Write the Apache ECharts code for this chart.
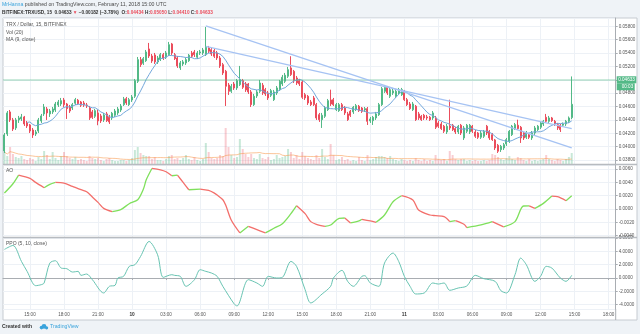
<!DOCTYPE html>
<html><head><meta charset="utf-8">
<script src="https://cdn.jsdelivr.net/npm/echarts@6/dist/echarts.min.js"></script>
<style>html,body{margin:0;padding:0;background:#eff3f7;}#c{width:640px;height:334px;}</style>
</head><body><div id="c"></div>
<script>
// ---- data (15-minute candles, 2018-02-09 12:45 UTC .. 2018-02-11 14:45 UTC) ----
const startTime = '2018-02-09T12:45:00Z';
const stepMinutes = 15;
const slotCount = 216; // axis runs to 18:30 on Feb 11

const open = [0.03935,0.04189,0.04519,0.04399,0.04279,0.04399,0.04414,0.04444,0.04354,0.04324,
0.04249,0.04189,0.04234,0.04384,0.04489,0.04563,0.04489,0.04519,0.04548,0.04623,
0.04638,0.04698,0.04638,0.04593,0.04578,0.04649,0.04694,0.04668,0.04653,0.04623,
0.04578,0.04519,0.04454,0.04504,0.04459,0.04399,0.04489,0.04439,0.04429,0.04469,
0.04504,0.04548,0.04628,0.04717,0.04628,0.04698,0.04753,0.04978,0.05301,0.05247,
0.05286,0.05461,0.05356,0.05371,0.05267,0.05301,0.05376,0.05337,0.05376,0.05536,
0.05376,0.05326,0.05177,0.05237,0.05252,0.05286,0.05401,0.05416,0.05337,0.05401,
0.05401,0.05376,0.05476,0.05450,0.05436,0.05401,0.05326,0.05226,0.05127,0.04922,
0.04828,0.04937,0.04878,0.04927,0.04987,0.04937,0.04937,0.04818,0.04628,0.04758,
0.04828,0.04918,0.04852,0.04803,0.04768,0.04702,0.04803,0.04852,0.04937,0.04978,
0.05053,0.05177,0.05127,0.05027,0.04987,0.04967,0.04777,0.04753,0.04668,0.04728,
0.04628,0.04478,0.04403,0.04454,0.04553,0.04698,0.04702,0.04553,0.04538,0.04628,
0.04578,0.04489,0.04529,0.04519,0.04553,0.04604,0.04578,0.04548,0.04568,0.04384,
0.04388,0.04429,0.04478,0.04628,0.04828,0.04888,0.04753,0.04803,0.04753,0.04803,
0.04777,0.04828,0.04702,0.04638,0.04553,0.04604,0.04489,0.04454,0.04469,0.04444,
0.04439,0.04429,0.04429,0.04354,0.04339,0.04305,0.04219,0.04309,0.04320,0.04269,
0.04219,0.04320,0.04130,0.04230,0.04219,0.04305,0.04219,0.04204,0.04140,0.04155,
0.04305,0.04230,0.04179,0.04100,0.04020,0.03955,0.03980,0.04040,0.04080,0.04179,
0.04269,0.04320,0.04290,0.04204,0.04140,0.04179,0.04130,0.04204,0.04254,0.04290,
0.04339,0.04439,0.04379,0.04429,0.04379,0.04329,0.04320,0.04320,0.04339,0.04379,
0.04434];

const close = [0.04174,0.04504,0.04399,0.04264,0.04399,0.04429,0.04444,0.04339,0.04309,0.04234,
0.04174,0.04219,0.04399,0.04459,0.04593,0.04504,0.04533,0.04563,0.04638,0.04668,
0.04688,0.04628,0.04568,0.04533,0.04628,0.04702,0.04643,0.04619,0.04623,0.04608,
0.04429,0.04439,0.04538,0.04384,0.04384,0.04474,0.04388,0.04369,0.04499,0.04533,
0.04563,0.04608,0.04713,0.04653,0.04702,0.04743,0.04987,0.05301,0.05226,0.05316,
0.05416,0.05356,0.05281,0.05267,0.05326,0.05376,0.05326,0.05401,0.05525,0.05401,
0.05316,0.05207,0.05252,0.05267,0.05301,0.05367,0.05352,0.05376,0.05401,0.05416,
0.05446,0.05486,0.05427,0.05386,0.05352,0.05326,0.05207,0.05102,0.04903,0.04828,
0.04903,0.04878,0.04987,0.05002,0.04888,0.04848,0.04818,0.04628,0.04753,0.04818,
0.04952,0.04803,0.04788,0.04728,0.04837,0.04818,0.04878,0.04978,0.05038,0.05068,
0.05151,0.05077,0.04987,0.04952,0.04937,0.04738,0.04728,0.04653,0.04628,0.04628,
0.04429,0.04403,0.04469,0.04578,0.04688,0.04638,0.04628,0.04628,0.04628,0.04553,
0.04504,0.04403,0.04469,0.04589,0.04613,0.04538,0.04529,0.04568,0.04379,0.04414,
0.04439,0.04489,0.04628,0.04867,0.04888,0.04803,0.04852,0.04833,0.04828,0.04852,
0.04852,0.04702,0.04628,0.04568,0.04638,0.04403,0.04429,0.04403,0.04429,0.04429,
0.04403,0.04504,0.04290,0.04305,0.04269,0.04230,0.04305,0.04279,0.04254,0.04219,
0.04305,0.04204,0.04279,0.04320,0.04320,0.04230,0.04155,0.04140,0.04204,0.04230,
0.04204,0.04130,0.04104,0.03980,0.03931,0.04005,0.04029,0.04104,0.04230,0.04305,
0.04329,0.04269,0.04130,0.04130,0.04204,0.04140,0.04204,0.04279,0.04305,0.04354,
0.04379,0.04379,0.04429,0.04388,0.04339,0.04279,0.04254,0.04339,0.04379,0.04429,
0.04633];

const high = [0.04204,0.04533,0.04548,0.04429,0.04429,0.04459,0.04489,0.04459,0.04384,0.04339,
0.04279,0.04249,0.04429,0.04489,0.04638,0.04593,0.04563,0.04593,0.04668,0.04698,
0.04728,0.04728,0.04653,0.04623,0.04653,0.04728,0.04713,0.04683,0.04683,0.04653,
0.04608,0.04548,0.04563,0.04553,0.04489,0.04504,0.04519,0.04474,0.04519,0.04563,
0.04593,0.04638,0.04743,0.04743,0.04728,0.04773,0.05012,0.05341,0.05341,0.05341,
0.05446,0.05551,0.05386,0.05401,0.05356,0.05401,0.05401,0.05431,0.05566,0.05551,
0.05401,0.05356,0.05281,0.05296,0.05326,0.05386,0.05431,0.05446,0.05431,0.05446,
0.05476,0.05790,0.05506,0.05476,0.05461,0.05431,0.05356,0.05252,0.05147,0.04952,
0.04937,0.04967,0.05012,0.05207,0.05012,0.04967,0.04952,0.04848,0.04788,0.04848,
0.04997,0.04952,0.04878,0.04833,0.04863,0.04848,0.04907,0.04997,0.05072,0.05102,
0.05192,0.05352,0.05147,0.05057,0.05012,0.04997,0.04803,0.04773,0.04698,0.04758,
0.04653,0.04504,0.04504,0.04608,0.04713,0.04852,0.04728,0.04653,0.04653,0.04653,
0.04608,0.04519,0.04548,0.04608,0.04638,0.04623,0.04593,0.04593,0.04593,0.04444,
0.04459,0.04519,0.04653,0.04893,0.04922,0.04907,0.04878,0.04863,0.04863,0.04878,
0.04878,0.04848,0.04728,0.04668,0.04668,0.04623,0.04519,0.04474,0.04489,0.04474,
0.04459,0.04533,0.04459,0.04384,0.04369,0.04324,0.04339,0.04702,0.04339,0.04294,
0.04324,0.04339,0.04309,0.04339,0.04339,0.04324,0.04249,0.04219,0.04234,0.04249,
0.04324,0.04249,0.04204,0.04115,0.04040,0.04025,0.04055,0.04130,0.04249,0.04324,
0.04354,0.04403,0.04309,0.04219,0.04234,0.04204,0.04234,0.04309,0.04324,0.04384,
0.04399,0.04489,0.04459,0.04444,0.04399,0.04354,0.04339,0.04361,0.04399,0.04451,
0.05050];

const low = [0.03905,0.04159,0.04369,0.04234,0.04249,0.04354,0.04384,0.04309,0.04279,0.04204,
0.04130,0.04159,0.04204,0.04354,0.04459,0.04399,0.04444,0.04489,0.04519,0.04593,
0.04608,0.04593,0.04414,0.04504,0.04548,0.04623,0.04623,0.04593,0.04593,0.04578,
0.04399,0.04414,0.04429,0.04320,0.04354,0.04369,0.04369,0.04339,0.04399,0.04444,
0.04474,0.04519,0.04608,0.04623,0.04608,0.04668,0.04728,0.04952,0.05192,0.05222,
0.05267,0.05326,0.05252,0.05237,0.05237,0.05281,0.05296,0.05311,0.05356,0.05371,
0.05296,0.05177,0.05147,0.05207,0.05222,0.05267,0.05326,0.05341,0.05311,0.05371,
0.05371,0.05356,0.05401,0.05356,0.05326,0.05296,0.05177,0.05072,0.04608,0.04773,
0.04803,0.04848,0.04848,0.04907,0.04863,0.04818,0.04788,0.04593,0.04608,0.04728,
0.04803,0.04773,0.04758,0.04698,0.04743,0.04683,0.04773,0.04833,0.04907,0.04952,
0.05027,0.05057,0.04952,0.04922,0.04907,0.04713,0.04698,0.04623,0.04608,0.04608,
0.04399,0.04369,0.04279,0.04429,0.04533,0.04608,0.04608,0.04533,0.04519,0.04533,
0.04474,0.04384,0.04444,0.04489,0.04533,0.04519,0.04504,0.04519,0.04324,0.04354,
0.04324,0.04399,0.04459,0.04608,0.04803,0.04773,0.04728,0.04773,0.04728,0.04773,
0.04758,0.04683,0.04608,0.04548,0.04533,0.04384,0.04399,0.04384,0.04399,0.04399,
0.04384,0.04399,0.04264,0.04279,0.04249,0.04204,0.04189,0.04249,0.04234,0.04189,
0.04189,0.04174,0.04100,0.04204,0.04189,0.04204,0.04130,0.04115,0.04115,0.04130,
0.04174,0.04100,0.04085,0.03950,0.03905,0.03920,0.03950,0.04010,0.04055,0.04159,
0.04249,0.04249,0.04055,0.04100,0.04115,0.04115,0.04100,0.04174,0.04234,0.04264,
0.04309,0.04354,0.04354,0.04369,0.04309,0.04249,0.04219,0.04294,0.04309,0.04354,
0.04410];

// volume, thousands of TRX
const volume = [12,8,17,10,7,6,8,5,4,6,
5,3,7,5,13,9,5,12,6,4,
8,12,8,6,5,7,4,5,4,3,
8,6,5,6,4,3,5,6,4,3,
3,4,4,3,4,6,14,17,11,9,
8,8,5,7,4,4,3,5,8,9,
5,6,4,6,9,5,4,7,4,3,
5,21,12,6,5,6,9,8,36,17,
9,6,7,25,15,10,7,10,6,5,
10,6,5,7,4,5,9,6,7,8,
15,12,6,9,5,12,8,6,5,4,
9,6,15,7,5,20,9,4,5,7,
4,5,3,4,3,7,4,3,9,4,
5,7,8,8,7,6,8,5,4,3,
5,4,3,4,3,6,4,3,5,3,
4,3,9,5,4,5,3,13,9,5,
4,5,5,3,4,3,4,3,3,4,
3,4,10,9,7,5,4,6,8,5,
4,7,6,4,3,5,3,4,3,4,
5,9,5,4,3,5,4,3,5,7,
11];

// Awesome Oscillator readings [candle index, value]
const aoPoints = [[0,0.0024],[3,0.0038],[5,0.0051],[9,0.0046],[11,0.0040],[14,0.0032],[16,0.0037],[18,0.0040],
[21,0.0039],[24,0.0034],[27,0.0029],[29,0.0026],[31,0.0018],[33,0.0010],[35,0.0001],[38,-0.0004],[41,-0.0001],
[44,0.0008],[47,0.0014],[49,0.0030],[50,0.0044],[52,0.0061],[55,0.0059],[57,0.0056],[59,0.0050],[61,0.0051],
[63,0.0040],[65,0.0029],[69,0.0030],[72,0.0028],[74,0.0024],[75,0.0021],[77,0.0014],[78,0.0006],[80,-0.0017],
[83,-0.0036],[86,-0.0026],[89,-0.0031],[92,-0.0036],[95,-0.0029],[98,-0.0022],[101,-0.0007],[103,0.0005],
[106,-0.0007],[108,-0.0019],[110,-0.0023],[113,-0.0026],[115,-0.0024],[118,-0.0014],[120,-0.00135],[122,-0.0021],
[125,-0.0018],[126,-0.00155],[129,-0.0018],[131,-0.0020],[134,-0.0009],[137,0.0011],[140,0.0020],[144,0.00135],
[146,-0.00015],[150,-0.0009],[152,-0.0010],[155,-0.00115],[157,-0.0019],[159,-0.00175],[162,-0.0023],[163,-0.0028],
[168,-0.0024],[172,-0.0019],[176,-0.0027],[180,-0.0019],[183,0.00045],[185,0.00046],[187,0.0001],[190,0.00085],
[193,0.00195],[195,0.00185],[198,0.00125],[200,0.0020]];

// PPO (5, 10, close) readings [candle index, value]
const ppoPoints = [[0,4.3],[3,4.9],[6,2.5],[8,1.0],[11,-1.15],[13,-1.0],[14,-0.75],[16,2.25],[18,2.6],[20,1.5],
[22,1.4],[24,0.9],[26,1.0],[27,0.4],[29,0.6],[31,-0.25],[35,-2.25],[37,-1.25],[39,-1.1],[40,0.0],[42,0.25],
[44,1.75],[46,2.0],[48,3.25],[51,5.5],[54,3.5],[56,0.1],[59,0.5],[60,0.4],[62,0.25],[64,-1.25],[67,-0.25],
[69,1.25],[71,1.0],[73,0.75],[75,0.25],[77,-1.25],[81,-3.9],[82,-4.2],[86,-0.25],[89,-0.75],[91,-1.25],
[93,0.25],[96,0.0],[98,0.1],[101,2.5],[103,1.75],[106,-1.75],[108,-3.75],[112,-2.4],[115,-1.25],[116,0.0],
[119,1.15],[121,-0.5],[123,-1.25],[126,0.25],[127,0.35],[129,-0.75],[132,-1.25],[134,2.25],[137,3.75],
[139,2.5],[141,0.25],[143,-1.25],[145,-2.4],[148,-2.25],[151,-0.75],[153,-0.9],[155,-0.75],[157,-1.85],
[160,-1.5],[163,-1.2],[166,0.4],[169,-0.1],[173,-0.5],[175,-1.9],[177,-2.25],[180,0.5],[182,3.0],[184,2.0],
[187,-0.5],[189,0.25],[191,1.75],[193,1.5],[196,0.0],[198,-0.5],[200,0.4]];

// hand-drawn trend lines [candle index, price]
const trendLineA = [[71,0.05805],[200,0.03980]];
const trendLineB = [[71,0.05501],[200,0.04269]];
const lastPrice = 0.04633;
const countdown = '00:03';

// ---- helpers ----
const pad = n => String(n).padStart(2,'0');
const categories = [];
const t0 = Date.parse(startTime);
for (let i = 0; i < slotCount; i++) {
  const d = new Date(t0 + i * stepMinutes * 60000);
  categories.push(d.getUTCDate() + '|' + pad(d.getUTCHours()) + ':' + pad(d.getUTCMinutes()));
}
const candleData = open.map((o, i) => [o, close[i], low[i], high[i]]);
const UP = '#53b987', DOWN = '#eb4d5c';
const volData = volume.map((v, i) => ({ value: v, itemStyle: { color: close[i] >= open[i] ? 'rgba(83,185,135,0.32)' : 'rgba(235,77,92,0.28)' } }));
const ma9 = close.map((c, i) => i < 8 ? '-' : close.slice(i - 8, i + 1).reduce((a, b) => a + b, 0) / 9);
const volMa = volume.map((v, i) => { const s = volume.slice(Math.max(0, i - 19), i + 1); return s.reduce((a, b) => a + b, 0) / s.length; });

function splitByDirection(points, wantUp) {
  const out = []; let last = -1;
  for (let j = 0; j < points.length - 1; j++) {
    const rising = points[j + 1][1] >= points[j][1];
    if (rising !== wantUp) continue;
    if (last !== j) { if (out.length) out.push([points[j][0], '-']); out.push(points[j]); }
    out.push(points[j + 1]); last = j + 1;
  }
  return out;
}

const FONT = "'Liberation Sans', Arial, sans-serif";
const GRID = '#edf1f6', AXIS = '#a9adb2', TXT = '#555';
const showTime = (idx, val) => { const hm = val.split('|')[1]; const h = +hm.slice(0, 2), m = +hm.slice(3); return m === 0 && h % 3 === 0; };

function xAxis(gi, labels) {
  return {
    type: 'category', gridIndex: gi, data: categories, boundaryGap: true,
    axisLine: { show: labels, lineStyle: { color: AXIS } },
    axisTick: { show: labels, interval: showTime, alignWithLabel: true, length: 2, lineStyle: { color: AXIS } },
    axisLabel: { show: labels, interval: showTime, color: TXT, fontSize: 4.6, fontFamily: FONT, margin: 3,
      formatter: v => { const [d, hm] = v.split('|'); return hm === '00:00' ? '{b|' + d + '}' : hm; },
      rich: { b: { fontWeight: 'bold', fontSize: 4.8, color: '#333', fontFamily: FONT } } },
    splitLine: { show: true, interval: showTime, alignWithLabel: true, lineStyle: { color: GRID, width: 1 } }
  };
}
function yAxis(gi, min, max, step, digits) {
  return {
    type: 'value', gridIndex: gi, position: 'right', min, max, minInterval: step, maxInterval: step,
    axisLine: { show: true, lineStyle: { color: AXIS } },
    axisTick: { show: true, length: 2, lineStyle: { color: AXIS } },
    axisLabel: { color: TXT, fontSize: 4.6, fontFamily: FONT, margin: 3, showMinLabel: false, showMaxLabel: false,
      formatter: v => v.toFixed(digits) },
    splitLine: { show: true, lineStyle: { color: GRID, width: 1 } }
  };
}

const txt = (x, y, text, extra) => ({ type: 'text', x, y, silent: true, z: 100,
  style: Object.assign({ text, fill: TXT, fontSize: 5, fontFamily: FONT, verticalAlign: 'middle' }, extra || {}) });

const chart = echarts.init(document.getElementById('c'));
chart.setOption({
  animation: false,
  backgroundColor: '#eff3f7',
  grid: [
    { left: 3, right: 24.3, top: 18, height: 146 },
    { left: 3, right: 24.3, top: 165, height: 72 },
    { left: 3, right: 24.3, top: 238, height: 71 }
  ],
  xAxis: [xAxis(0, false), xAxis(1, false), xAxis(2, true)],
  yAxis: [
    yAxis(0, 0.0374, 0.05924, 0.002, 5),
    { type: 'value', gridIndex: 0, min: 0, max: 146, show: false },
    yAxis(1, -0.00421, 0.00662, 0.002, 4),
    yAxis(2, -4.66, 6.02, 2, 4)
  ],
  series: [
    { type: 'bar', name: 'Vol', xAxisIndex: 0, yAxisIndex: 1, data: volData, barWidth: 2, z: 1, silent: true },
    { type: 'line', name: 'VolMA', xAxisIndex: 0, yAxisIndex: 1, data: volMa, showSymbol: false, z: 1,
      lineStyle: { color: 'rgba(247,150,70,0.55)', width: 1 }, silent: true },
    { type: 'candlestick', xAxisIndex: 0, yAxisIndex: 0, data: candleData, barWidth: 1.5, z: 3,
      itemStyle: { color: UP, color0: DOWN, borderColor: UP, borderColor0: DOWN, borderWidth: 1 },
      markLine: { silent: true, symbol: 'none', animation: false,
        lineStyle: { color: 'rgba(83,185,135,0.4)', width: 1.5, type: 'solid' },
        label: { position: 'end', distance: 1, padding: [7, 0, 0, 0],
          formatter: () => '{a|' + lastPrice.toFixed(5) + '}\n{b|' + countdown + '}',
          rich: {
            a: { backgroundColor: UP, color: '#fff', fontSize: 4.6, fontFamily: FONT, padding: [1, 1.5, 1, 1.5], lineHeight: 7 },
            b: { backgroundColor: UP, color: '#fff', fontSize: 4.6, fontFamily: FONT, padding: [1, 1.5, 1, 5], lineHeight: 7 }
          } },
        data: [{ yAxis: lastPrice }] } },
    { type: 'line', name: 'MA9', xAxisIndex: 0, yAxisIndex: 0, data: ma9, showSymbol: false, z: 4,
      lineStyle: { color: '#74a8dc', width: 1 }, silent: true },
    { type: 'line', xAxisIndex: 0, yAxisIndex: 0, data: trendLineA, showSymbol: false, z: 5,
      lineStyle: { color: '#a6c3f3', width: 1.3 }, silent: true },
    { type: 'line', xAxisIndex: 0, yAxisIndex: 0, data: trendLineB, showSymbol: false, z: 5,
      lineStyle: { color: '#a6c3f3', width: 1.3 }, silent: true },
    { type: 'line', name: 'AO up', xAxisIndex: 1, yAxisIndex: 2, data: splitByDirection(aoPoints, true),
      showSymbol: false, smooth: 0.3, connectNulls: false, lineStyle: { color: '#7fe05c', width: 1.3 }, silent: true },
    { type: 'line', name: 'AO down', xAxisIndex: 1, yAxisIndex: 2, data: splitByDirection(aoPoints, false),
      showSymbol: false, smooth: 0.3, connectNulls: false, lineStyle: { color: '#f36f6b', width: 1.3 }, silent: true },
    { type: 'line', name: 'PPO', xAxisIndex: 2, yAxisIndex: 3, data: ppoPoints, showSymbol: false, smooth: 0.3,
      lineStyle: { color: '#68c4b2', width: 1 }, silent: true }
  ],
  graphic: { elements: [
    { type: 'rect', z: -1, silent: true, shape: { x: 3, y: 18, width: 634, height: 302 },
      style: { fill: '#ffffff', stroke: '#c6cbd1', lineWidth: 1 } },
    { type: 'line', z: 50, silent: true, shape: { x1: 3, y1: 164.5, x2: 637, y2: 164.5 }, style: { stroke: '#b7bbc0', lineWidth: 1.5 } },
    { type: 'line', z: 50, silent: true, shape: { x1: 3, y1: 237.5, x2: 637, y2: 237.5 }, style: { stroke: '#b7bbc0', lineWidth: 1.5 } },
    { type: 'line', z: 50, silent: true, shape: { x1: 615.7, y1: 309, x2: 615.7, y2: 320 }, style: { stroke: AXIS, lineWidth: 1 } },
    txt(2, 5, '{a|MrHanna}{b| published on TradingView.com, February 11, 2018 15:00 UTC}', {
      rich: { a: { fill: '#3aa3dc', fontSize: 5.2, fontFamily: FONT }, b: { fill: '#4a4a4a', fontSize: 5.2, fontFamily: FONT } } }),
    txt(2, 12.5, '{k|BITFINEX:TRXUSD, 15  0.04633 }{r|▼}{k| −0.00182 (−3.78%)  O:}{r|0.04434}{k| H:}{r|0.05050}{k| L:}{r|0.04410}{k| C:}{r|0.04633}', {
      rich: { k: { fill: '#333', fontSize: 4.7, fontWeight: 'bold', fontFamily: FONT },
              r: { fill: DOWN, fontSize: 4.7, fontWeight: 'bold', fontFamily: FONT } } }),
    txt(6, 25, 'TRX / Dollar, 15, BITFINEX'),
    txt(6, 32.5, 'Vol (20)'),
    txt(6, 40, 'MA (9, close)'),
    txt(6, 170.5, 'AO'),
    txt(6, 243.5, 'PPO (5, 10, close)'),
    txt(2, 327, 'Created with', { fill: '#333', fontWeight: 'bold', fontSize: 5 }),
    { type: 'circle', silent: true, z: 100, shape: { cx: 41.5, cy: 327.6, r: 1.8 }, style: { fill: '#3aa3dc' } },
    { type: 'circle', silent: true, z: 100, shape: { cx: 44, cy: 326.4, r: 2.4 }, style: { fill: '#3aa3dc' } },
    { type: 'circle', silent: true, z: 100, shape: { cx: 46.6, cy: 327.8, r: 1.6 }, style: { fill: '#3aa3dc' } },
    txt(50, 327, 'TradingView', { fill: '#3aa3dc', fontSize: 5.2 })
  ] }
});
</script></body></html>
